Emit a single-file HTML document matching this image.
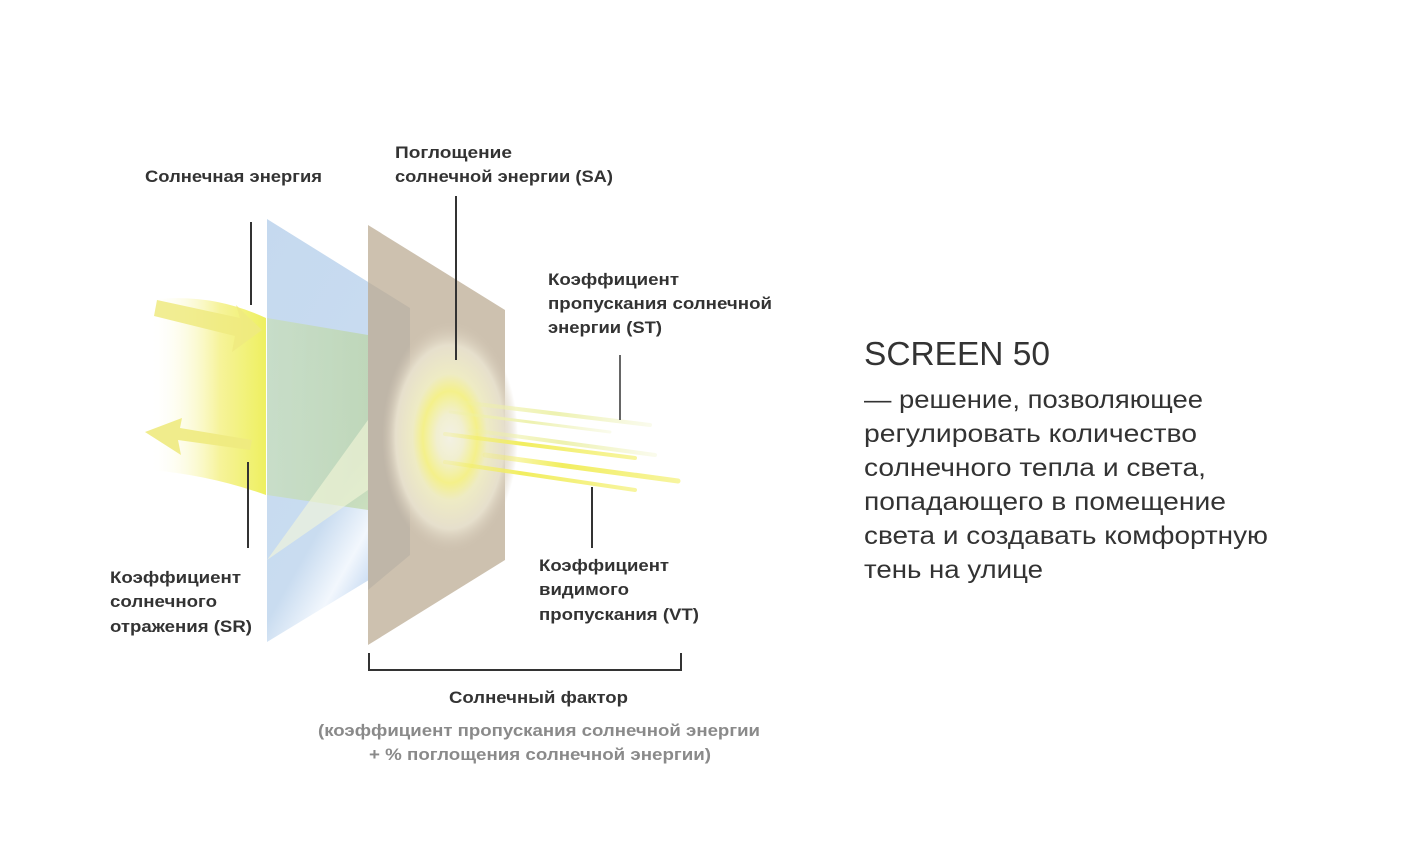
<!DOCTYPE html>
<html><head><meta charset="utf-8"><style>
html,body{margin:0;padding:0;background:#fff;}
svg{display:block;}
text{font-family:"Liberation Sans",sans-serif;fill:#333;}
.l{font-size:16.5px;font-weight:bold;}
.g{font-size:16.5px;font-weight:bold;fill:#8a8a8a;}
.b{font-size:25px;}
</style></head><body>
<svg width="1426" height="868" viewBox="0 0 1426 868">
<defs>
<linearGradient id="yb" x1="0" x2="1" y1="0" y2="0">
<stop offset="0" stop-color="#fff" stop-opacity="0"/>
<stop offset="0.6" stop-color="#f6f39a"/>
<stop offset="1" stop-color="#eef060"/>
</linearGradient>
<linearGradient id="bl" x1="0" x2="0.6" y1="0" y2="1">
<stop offset="0" stop-color="#c5d9ef"/>
<stop offset="0.7" stop-color="#c9dcf0"/>
<stop offset="0.85" stop-color="#f2f7fd"/>
<stop offset="1" stop-color="#b7d0ee"/>
</linearGradient>
<linearGradient id="gr" x1="0" x2="1" y1="0" y2="0">
<stop offset="0" stop-color="#c8e0a0" stop-opacity="0.7"/>
<stop offset="1" stop-color="#b9d49a" stop-opacity="0.9"/>
</linearGradient>
<radialGradient id="gl" cx="0.5" cy="0.5" r="0.5">
<stop offset="0" stop-color="#f3f1e4"/>
<stop offset="0.2" stop-color="#f1efd0"/>
<stop offset="0.4" stop-color="#f4f08a"/>
<stop offset="0.55" stop-color="#eeebc4"/>
<stop offset="0.8" stop-color="#e6dfcc"/>
<stop offset="1" stop-color="#d2c6b4" stop-opacity="0"/>
</radialGradient>
<linearGradient id="ray" x1="0" x2="1">
<stop offset="0" stop-color="#f2ee60" stop-opacity="0.2"/>
<stop offset="0.4" stop-color="#f2ee60"/>
<stop offset="1" stop-color="#f2ee60" stop-opacity="0.6"/>
</linearGradient>
<linearGradient id="ray2" x1="0" x2="1">
<stop offset="0" stop-color="#eef0a0" stop-opacity="0.2"/>
<stop offset="0.5" stop-color="#eef2b0"/>
<stop offset="1" stop-color="#eef2c0" stop-opacity="0.3"/>
</linearGradient>
</defs>
<path d="M150 300 Q210 292 266 318 L266 495 Q210 475 150 470 Z" fill="url(#yb)"/>
<polygon points="157,300 240,318 236,305 262,330 232,352 235,336 154,316" fill="#eeea80" opacity="0.85"/>
<polygon points="250,450 178,440 181,455 145,432 182,418 180,428 252,440" fill="#eeea80" opacity="0.9"/>
<polygon points="267,219 410,308 410,555 267,642" fill="url(#bl)"/>
<polygon points="267,318 368,335 368,510 267,495" fill="url(#gr)" opacity="0.7"/>
<path d="M267 560 L368 420 L368 490 Z" fill="#f5f6d8" opacity="0.6"/>
<polygon points="368,225 505,310 505,560 368,645" fill="#cdc1af"/>
<polygon points="368,282 410,308 410,555 368,590" fill="#bfb6a8"/>
<ellipse cx="450" cy="437" rx="68" ry="115" fill="url(#gl)"/>
<g stroke-linecap="round">
<line x1="460" y1="402" x2="650" y2="425" stroke="url(#ray2)" stroke-width="4"/>
<line x1="450" y1="412" x2="610" y2="432" stroke="url(#ray2)" stroke-width="3"/>
<line x1="470" y1="430" x2="655" y2="455" stroke="url(#ray2)" stroke-width="4"/>
<line x1="445" y1="434" x2="635" y2="458" stroke="url(#ray)" stroke-width="4"/>
<line x1="485" y1="455" x2="678" y2="481" stroke="url(#ray)" stroke-width="5"/>
<line x1="445" y1="462" x2="635" y2="490" stroke="url(#ray)" stroke-width="4"/>
</g>
<g stroke="#333" stroke-width="2">
<line x1="251" y1="222" x2="251" y2="305"/>
<line x1="248" y1="462" x2="248" y2="548"/>
<line x1="456" y1="196" x2="456" y2="360"/>
<line x1="620" y1="355" x2="620" y2="420" stroke="#666"/>
<line x1="592" y1="487" x2="592" y2="548"/>
<polyline points="369,653 369,670 681,670 681,653" fill="none"/>
</g>
<text class="l" x="145" y="182" textLength="177" lengthAdjust="spacingAndGlyphs">Солнечная энергия</text>
<text class="l" x="395" y="158" textLength="117" lengthAdjust="spacingAndGlyphs">Поглощение</text>
<text class="l" x="395" y="182" textLength="218" lengthAdjust="spacingAndGlyphs">солнечной энергии (SA)</text>
<text class="l" x="548" y="285" textLength="131" lengthAdjust="spacingAndGlyphs">Коэффициент</text>
<text class="l" x="548" y="309" textLength="224" lengthAdjust="spacingAndGlyphs">пропускания солнечной</text>
<text class="l" x="548" y="333" textLength="114" lengthAdjust="spacingAndGlyphs">энергии (ST)</text>
<text class="l" x="110" y="583" textLength="131" lengthAdjust="spacingAndGlyphs">Коэффициент</text>
<text class="l" x="110" y="607" textLength="107" lengthAdjust="spacingAndGlyphs">солнечного</text>
<text class="l" x="110" y="632" textLength="142" lengthAdjust="spacingAndGlyphs">отражения (SR)</text>
<text class="l" x="539" y="571" textLength="130" lengthAdjust="spacingAndGlyphs">Коэффициент</text>
<text class="l" x="539" y="595" textLength="90" lengthAdjust="spacingAndGlyphs">видимого</text>
<text class="l" x="539" y="620" textLength="160" lengthAdjust="spacingAndGlyphs">пропускания (VT)</text>
<text class="l" x="449" y="703" textLength="179" lengthAdjust="spacingAndGlyphs">Солнечный фактор</text>
<text class="g" x="318" y="736" textLength="442" lengthAdjust="spacingAndGlyphs">(коэффициент пропускания солнечной энергии</text>
<text class="g" x="369" y="760" textLength="342" lengthAdjust="spacingAndGlyphs">+ % поглощения солнечной энергии)</text>
<text x="864" y="365" style="font-size:33px" textLength="186" lengthAdjust="spacingAndGlyphs">SCREEN 50</text>
<text class="b" x="864" y="408" textLength="339" lengthAdjust="spacingAndGlyphs">— решение, позволяющее</text>
<text class="b" x="864" y="442" textLength="333" lengthAdjust="spacingAndGlyphs">регулировать количество</text>
<text class="b" x="864" y="476" textLength="342" lengthAdjust="spacingAndGlyphs">солнечного тепла и света,</text>
<text class="b" x="864" y="510" textLength="362" lengthAdjust="spacingAndGlyphs">попадающего в помещение</text>
<text class="b" x="864" y="544" textLength="404" lengthAdjust="spacingAndGlyphs">света и создавать комфортную</text>
<text class="b" x="864" y="578" textLength="179" lengthAdjust="spacingAndGlyphs">тень на улице</text>
</svg>
</body></html>
